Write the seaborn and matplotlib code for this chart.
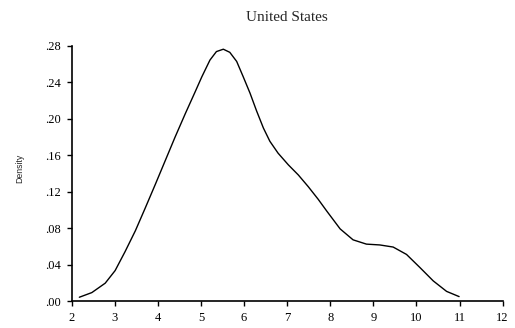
import matplotlib
matplotlib.use("Agg")
import matplotlib.pyplot as plt
import seaborn as sns
import pandas as pd

# density curve
grid_x = [2.18, 2.47, 2.78, 3.01, 3.24, 3.48, 3.71, 3.94, 4.17, 4.40, 4.64,
          4.86, 5.02, 5.21, 5.36, 5.52, 5.67, 5.83, 5.98, 6.14, 6.29, 6.45,
          6.60, 6.79, 7.03, 7.26, 7.49, 7.72, 7.92, 8.23, 8.53, 8.84, 9.15,
          9.46, 9.77, 10.08, 10.39, 10.70, 10.99]
density = [0.0046, 0.0097, 0.0200, 0.0338, 0.0545, 0.0775, 0.1025, 0.128,
           0.154, 0.1800, 0.2060, 0.229, 0.2460, 0.2645, 0.2738, 0.2764,
           0.2730, 0.2630, 0.2464, 0.2282, 0.209, 0.1900, 0.1755, 0.1625,
           0.1496, 0.1386, 0.1258, 0.1120, 0.0990, 0.0795, 0.0675, 0.0628,
           0.0619, 0.0596, 0.0515, 0.0372, 0.0225, 0.0110, 0.0053]

x_ticks = [2, 3, 4, 5, 6, 7, 8, 9, 10, 11, 12]
y_ticks = [0.00, 0.04, 0.08, 0.12, 0.16, 0.20, 0.24, 0.28]
y_labels = [".00", ".04", ".08", ".12", ".16", ".20", ".24", ".28"]

df = pd.DataFrame({"x": grid_x, "density": density})

sns.set_style("ticks")
plt.rcParams["font.family"] = ["Liberation Serif", "DejaVu Serif"]

fig = plt.figure(figsize=(5.15, 3.28), dpi=100)
ax = fig.add_axes([0.139, 0.081, 0.837, 0.779])

sns.lineplot(data=df, x="x", y="density", color="black", linewidth=1.0,
             ax=ax, solid_joinstyle="round", solid_capstyle="round")

ax.set_xlim(2, 12)
ax.set_ylim(0, 0.28)
ax.set_xticks(x_ticks)
ax.set_xticklabels([str(t) for t in x_ticks])
ax.set_yticks(y_ticks)
ax.set_yticklabels(y_labels)
ax.tick_params(direction="out", length=3.5, width=1, labelsize=9, colors="black", pad=4)

sns.despine(ax=ax)
for side in ["left", "bottom"]:
    ax.spines[side].set_linewidth(1.2)
    ax.spines[side].set_color("black")

ax.set_xlabel("")
ax.set_ylabel("Density", fontsize=6.3, family=["Liberation Sans", "DejaVu Sans"])
ax.yaxis.set_label_coords(-0.11, 0.52)
ax.set_title("United States", fontsize=11, pad=18)

fig.savefig("out.png", dpi=100)
